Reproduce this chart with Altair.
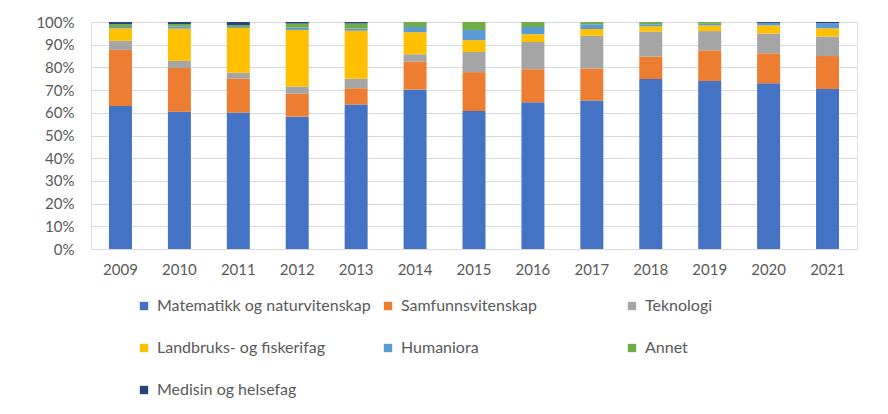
import altair as alt
import pandas as pd

years = ["2009", "2010", "2011", "2012", "2013", "2014", "2015",
         "2016", "2017", "2018", "2019", "2020", "2021"]

series_names = [
    "Matematikk og naturvitenskap",
    "Samfunnsvitenskap",
    "Teknologi",
    "Landbruks- og fiskerifag",
    "Humaniora",
    "Annet",
    "Medisin og helsefag",
]
series_colors = ["#4472C4", "#ED7D31", "#A5A5A5", "#FFC000", "#5B9BD5", "#70AD47", "#264478"]

matematikk = [63.0, 60.5, 60.1, 58.3, 63.7, 70.2, 60.8, 64.6, 65.4, 74.9, 74.0, 73.0, 70.5]
samfunn = [24.7, 19.2, 15.0, 10.1, 7.1, 12.4, 17.1, 14.6, 14.1, 9.9, 13.5, 13.2, 14.5]
teknologi = [4.0, 3.2, 2.5, 3.2, 4.2, 3.2, 8.9, 12.0, 14.4, 11.0, 8.5, 8.7, 8.6]
landbruk = [5.5, 14.2, 19.8, 24.9, 21.2, 9.7, 5.2, 3.4, 3.0, 2.3, 2.5, 3.6, 3.6]
humaniora = [0.6, 1.0, 0.4, 1.0, 0.9, 2.3, 4.5, 3.2, 2.1, 0.9, 0.7, 1.1, 2.3]
annet = [1.3, 1.0, 0.8, 1.8, 2.2, 2.2, 3.5, 2.2, 1.0, 1.0, 0.8, 0.0, 0.0]
medisin = [0.9, 0.9, 1.4, 0.7, 0.7, 0.0, 0.0, 0.0, 0.0, 0.0, 0.0, 0.4, 0.5]

y_ticks = [0, 0.1, 0.2, 0.3, 0.4, 0.5, 0.6, 0.7, 0.8, 0.9, 1.0]

all_series = [matematikk, samfunn, teknologi, landbruk, humaniora, annet, medisin]
rows = []
for idx, (name, vals) in enumerate(zip(series_names, all_series)):
    for yr, v in zip(years, vals):
        rows.append({"year": yr, "series": name, "value": v / 100.0, "idx": idx})
df = pd.DataFrame(rows)

FONT = "Lato"
TXT = "#595959"

chart = (
    alt.Chart(df)
    .mark_bar()
    .encode(
        x=alt.X(
            "year:N",
            sort=years,
            title=None,
            scale=alt.Scale(paddingInner=0.61),
            axis=alt.Axis(labelAngle=0, domain=False, ticks=False, labelPadding=13,
                          labelFontSize=15, labelColor=TXT, labelFont=FONT),
        ),
        y=alt.Y(
            "value:Q",
            stack="zero",
            title=None,
            scale=alt.Scale(domain=[0, 1], nice=False),
            axis=alt.Axis(values=y_ticks, format=".0%", domain=False, ticks=False,
                          labelPadding=17, minExtent=60, maxExtent=60,
                          gridColor="#D9D9D9", gridWidth=1,
                          labelFontSize=15, labelColor=TXT, labelFont=FONT),
        ),
        color=alt.Color(
            "series:N",
            sort=series_names,
            scale=alt.Scale(domain=series_names, range=series_colors),
            legend=alt.Legend(
                title=None, orient="none", legendX=45, legendY=276,
                direction="horizontal", columns=3, gridAlign="all",
                columnPadding=9, rowPadding=26, padding=0,
                symbolType="square", symbolSize=70, symbolStrokeWidth=0,
                labelOffset=5, labelFontSize=16, labelColor=TXT, labelFont=FONT,
                labelLimit=400,
            ),
        ),
        order=alt.Order("idx:Q", sort="ascending"),
    )
    .properties(width=766, height=227,
                padding={"left": 23, "top": 7, "right": 10, "bottom": 0})
    .configure_view(stroke=None)
    .configure(background="#FFFFFF")
)

chart.save("out.html", embed_options={"renderer": "svg", "actions": False})
